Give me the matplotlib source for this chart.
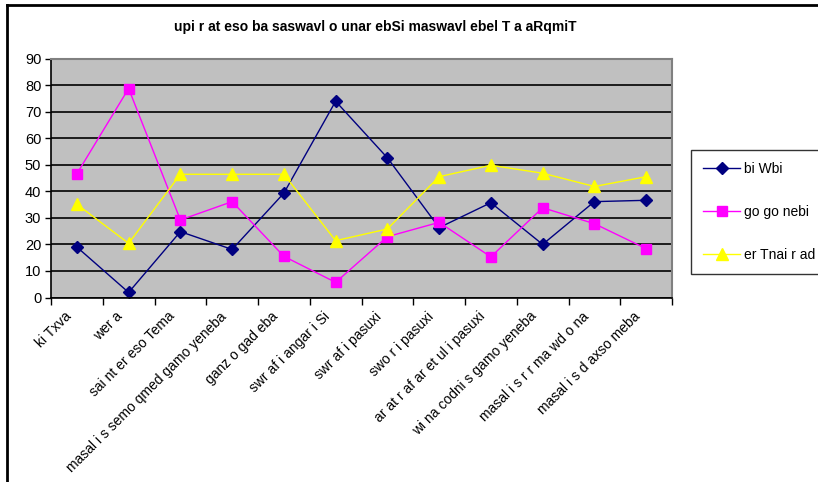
import matplotlib
matplotlib.use("Agg")
import matplotlib.pyplot as plt
import matplotlib.transforms as mtrans
from matplotlib.lines import Line2D
import numpy as np

plt.rcParams['font.family'] = ['Liberation Sans', 'DejaVu Sans']

title = "upi r at eso ba saswavl o unar ebSi maswavl ebel T a aRqmiT"

categories = ["ki Txva", "wer a", "sai nt er eso Tema",
              "masal i s semo qmed gamo yeneba", "ganz o gad eba",
              "swr af i angar i Si", "swr af i pasuxi", "swo r i pasuxi",
              "ar at r af ar et ul i pasuxi", "wi na codni s gamo yeneba",
              "masal i s r r ma wd o na", "masal i s d axso meba"]

series_names = ["bi Wbi", "go go nebi", "er Tnai r ad"]
blue_vals = [19.0, 1.9, 24.8, 18.1, 39.3, 73.9, 52.6, 26.3, 35.7, 20.0, 36.1, 36.6]
pink_vals = [46.6, 78.7, 29.2, 36.1, 15.5, 5.7, 22.9, 28.3, 15.3, 33.8, 27.8, 18.4]
yellow_vals = [35.1, 20.4, 46.4, 46.4, 46.4, 21.4, 25.8, 45.5, 49.8, 46.8, 41.8, 45.5]

fig = plt.figure(figsize=(8.18, 4.82), dpi=100)
fig.patch.set_facecolor('white')

# outer chart border (only top and left visible in the crop)
fig.add_artist(Line2D([7/818, 7/818], [0, 1 - 5/482], color='black', lw=2,
                      transform=fig.transFigure))
fig.add_artist(Line2D([7/818, 1], [1 - 5/482, 1 - 5/482], color='black', lw=2,
                      transform=fig.transFigure))

ax = fig.add_axes([51/818, 1 - 297.5/482, 621/818, 239/482])
ax.set_facecolor('#C0C0C0')

x = np.arange(len(categories))
ax.plot(x, blue_vals, color='#000080', lw=1, marker='D', ms=6,
        label=series_names[0])
ax.plot(x, pink_vals, color='#FF00FF', lw=1, marker='s', ms=7,
        label=series_names[1])
ax.plot(x, yellow_vals, color='#FFFF00', lw=1, marker='^', ms=8,
        label=series_names[2])

ax.set_xlim(-0.5, len(categories) - 0.5)
ax.set_ylim(0, 90)
ax.set_yticks(np.arange(0, 91, 10))
ax.yaxis.grid(True, color='black', lw=1.2)
ax.set_axisbelow(True)

ax.set_xticks(np.arange(-0.5, len(categories), 1))
ax.set_xticklabels([])
ax.set_xticks(x, minor=True)
ax.set_xticklabels(categories, minor=True, rotation=45, ha='right',
                   va='center', rotation_mode='anchor', fontsize=10)
ax.tick_params(axis='x', which='minor', length=0, pad=12)
ax.tick_params(axis='x', which='major', direction='out', length=5, width=1)
ax.tick_params(axis='y', direction='out', length=4, width=1, labelsize=10.5,
               pad=3)

# nudge the slanted labels a little to the left
shift = mtrans.ScaledTranslation(-8/100, 0, fig.dpi_scale_trans)
for lbl in ax.get_xticklabels(minor=True):
    lbl.set_transform(lbl.get_transform() + shift)

for side in ['left', 'bottom']:
    ax.spines[side].set_color('black')
    ax.spines[side].set_linewidth(1.2)
for side in ['top', 'right']:
    ax.spines[side].set_color('#808080')
    ax.spines[side].set_linewidth(1.5)

fig.text(375/818, 1 - 27/482, title, ha='center', va='center',
         fontsize=10, fontweight='bold')

leg = fig.legend(loc='upper left', bbox_to_anchor=(691/818, 1 - 150/482),
                 frameon=True, fancybox=False, edgecolor='black',
                 fontsize=10, handlelength=2.7, labelspacing=2.1,
                 borderpad=0.85, handletextpad=0.3, borderaxespad=0)
leg.get_frame().set_linewidth(1)

fig.savefig('out.png', dpi=100)
